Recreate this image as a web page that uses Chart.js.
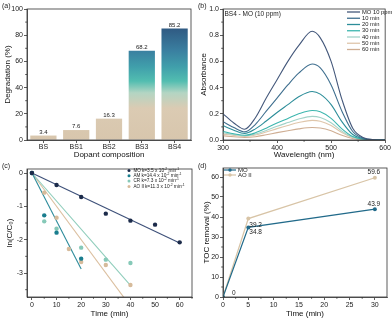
<!DOCTYPE html>
<html>
<head>
<meta charset="utf-8">
<script src="https://cdn.jsdelivr.net/npm/chart.js@4.4.0/dist/chart.umd.min.js"></script>
<style>
  html, body { margin: 0; padding: 0; background: #fff; }
  #wrap { position: relative; width: 392px; height: 320px; overflow: hidden; }
  .panel { position: absolute; width: 196px; height: 160px; }
  .tag { position: absolute; font: 7px "Liberation Sans", Arial, sans-serif; color: #222; }
</style>
</head>
<body>
<div id="wrap">
  <div class="panel" style="left:0;top:0"><canvas id="chartA"></canvas></div>
  <div class="panel" style="left:196px;top:0"><canvas id="chartB"></canvas></div>
  <div class="panel" style="left:0;top:160px"><canvas id="chartC"></canvas></div>
  <div class="panel" style="left:196px;top:160px"><canvas id="chartD"></canvas></div>
  <div class="tag" style="left:2px;top:2px">(a)</div>
  <div class="tag" style="left:198px;top:2px">(b)</div>
  <div class="tag" style="left:2px;top:162px">(c)</div>
  <div class="tag" style="left:198px;top:162px">(d)</div>
</div>
<script>
const $ = (s) => document.querySelector(s);
const FONT = '"Liberation Sans", Arial, Helvetica, sans-serif';

/* ---- (a) degradation per dopant ---- */
const dopants = ["BS", "BS1", "BS2", "BS3", "BS4"];
const degradation = [3.4, 7.6, 16.3, 68.2, 85.2];
const degTicks = [0, 20, 40, 60, 80, 100];

/* ---- (b) UV-vis spectra, BS4 - MO ---- */
const wavelengths = [300, 320, 340, 360, 380, 400, 420, 440, 465, 480, 500, 520, 540, 560, 580, 600];
const absLabels = ["MO 10 ppm", "10 min", "20 min", "30 min", "40 min", "50 min", "60 min"];
const absMO  = [0.200, 0.130, 0.082, 0.170, 0.320, 0.460, 0.600, 0.720, 0.830, 0.780, 0.600, 0.310, 0.090, 0.018, 0.002, 0];
const abs10  = [0.140, 0.095, 0.062, 0.120, 0.220, 0.320, 0.420, 0.510, 0.580, 0.550, 0.420, 0.220, 0.065, 0.013, 0.002, 0];
const abs20  = [0.110, 0.075, 0.050, 0.085, 0.145, 0.210, 0.270, 0.330, 0.370, 0.350, 0.270, 0.140, 0.042, 0.009, 0.001, 0];
const abs30  = [0.065, 0.048, 0.036, 0.055, 0.090, 0.130, 0.165, 0.200, 0.225, 0.215, 0.165, 0.085, 0.026, 0.006, 0.001, 0];
const abs40  = [0.055, 0.042, 0.032, 0.046, 0.073, 0.105, 0.133, 0.160, 0.180, 0.172, 0.132, 0.068, 0.021, 0.005, 0.001, 0];
const abs50  = [0.045, 0.035, 0.027, 0.038, 0.061, 0.087, 0.111, 0.133, 0.150, 0.143, 0.110, 0.057, 0.018, 0.004, 0.001, 0];
const abs60  = [0.032, 0.025, 0.019, 0.025, 0.040, 0.056, 0.071, 0.085, 0.095, 0.091, 0.070, 0.036, 0.012, 0.003, 0.001, 0];
const wlTicks = [300, 400, 500, 600];
const absTicks = [0, 0.2, 0.4, 0.6, 0.8, 1.0];

/* ---- (c) kinetics ln(C/C0) ---- */
const dyeNames = ["MO", "AM", "CR", "AO II"];
const kValues = ["3.5", "14.4", "7.3", "11.3"];
const tMO = [0, 10, 20, 30, 40, 50, 60];
const lnMO = [0, -0.36, -0.72, -1.22, -1.43, -1.55, -2.08];
const tAM = [0, 5, 10, 20];
const lnAM = [0, -1.27, -1.79, -2.57];
const tCR = [0, 5, 10, 20, 30, 40];
const lnCR = [0, -1.45, -1.67, -2.24, -2.60, -2.70];
const tAO = [0, 5, 10, 15, 20, 30, 40];
const lnAO = [0, -0.59, -1.34, -2.28, -2.67, -2.76, -3.36];
// fitted lines, [start, end] as [t, ln]
const fitMO = [[0, 0], [60, -2.10]];
const fitAM = [[0, 0], [20, -2.88]];
const fitCR = [[0, 0], [40, -3.37]];
const fitAO = [[0, 0], [37.5, -3.75]];
const timeTicksC = [0, 10, 20, 30, 40, 50, 60];
const lnTicks = [0, -1, -2, -3];

/* ---- (d) TOC removal ---- */
const tocTime = [0, 5, 30];
const tocMO = [0, 34.8, 43.9];
const tocAO = [0, 39.2, 59.6];
const tocNames = ["MO", "AO II"];
const timeTicksD = [0, 5, 10, 15, 20, 25, 30];
const tocTicks = [0, 10, 20, 30, 40, 50, 60];

/* ---- Colors ---- */
const SPEC_COLORS = ["#44587b", "#3f6f8f", "#2c8d99", "#3db6ae", "#a3d3c9", "#dfc6ab", "#cfae93"];
const DYE = {
  MO: { pt: "#1c2b4a", line: "#3d5079" },
  AM: { pt: "#1a7d8e", line: "#2e8c9c" },
  CR: { pt: "#86c9b8", line: "#8fcdbb" },
  AO: { pt: "#d6bb9b", line: "#dbbf9f" },
};
const TOC_COLORS = { MO: "#216a8a", AO: "#d8c4a6" };
const GRAD = [[0, "#d8c6ad"], [0.27, "#dbcbb3"], [0.4, "#b3d5c3"], [0.5, "#52bdb0"], [0.62, "#409fab"], [0.76, "#3a7fa0"], [1, "#2c4f7a"]];

Chart.defaults.font.family = FONT;
Chart.defaults.font.size = 7;
Chart.defaults.color = "#222";
Chart.defaults.animation = false;
Chart.defaults.plugins.legend.display = false;
Chart.defaults.plugins.tooltip.enabled = false;

/* ---------- helpers ---------- */

// box around plot area + small minor ticks (Origin look)
const framePlugin = {
  id: "frame",
  afterDraw(chart, args, opts) {
    const { ctx, chartArea: a, scales } = chart;
    ctx.save();
    ctx.strokeStyle = "#333";
    ctx.lineWidth = 0.8;
    ctx.strokeRect(a.left, a.top, a.right - a.left, a.bottom - a.top);
    const minor = (scale, step, horiz) => {
      if (!step) return;
      const major = scale.ticks.map((t) => t.value);
      for (let v = Math.ceil(scale.min / step) * step; v <= scale.max + 1e-9; v += step) {
        if (major.some((m) => Math.abs(m - v) < 1e-6)) continue;
        const p = scale.getPixelForValue(v);
        ctx.beginPath();
        if (horiz) { ctx.moveTo(p, a.bottom); ctx.lineTo(p, a.bottom + 1.8); }
        else { ctx.moveTo(a.left - 1.8, p); ctx.lineTo(a.left, p); }
        ctx.stroke();
      }
    };
    if (scales.x && scales.x.type === "linear") minor(scales.x, opts.minorX, true);
    if (scales.y) minor(scales.y, opts.minorY, false);
    ctx.restore();
  },
};
Chart.register(framePlugin);

function linAxis({ pos, min, max, ticks, title, size, fmt, titlePad }) {
  const horiz = pos === "bottom";
  return {
    type: "linear", position: pos, min, max,
    afterBuildTicks: (s) => { s.ticks = ticks.map((v) => ({ value: v })); },
    afterFit: (s) => { if (horiz) s.height = size; else s.width = size; },
    grid: { drawOnChartArea: false, tickLength: 3, color: "#333", lineWidth: 0.8 },
    border: { color: "#333", width: 0.8 },
    ticks: { padding: 1, autoSkip: false, maxRotation: 0, color: "#222", font: { size: 7 }, callback: fmt || ((v) => v) },
    title: { display: true, text: title, color: "#111", font: { size: 8 }, padding: titlePad },
  };
}

function drawRich(ctx, x, y, parts, size) {
  parts.forEach(([t, sup]) => {
    ctx.font = `${sup ? size * 0.7 : size}px ${FONT}`;
    ctx.fillText(t, x, sup ? y - size * 0.35 : y);
    x += ctx.measureText(t).width;
  });
}

function barGradient(context) {
  const { chart } = context;
  const { ctx, chartArea, scales } = chart;
  if (!chartArea) return GRAD[0][1];
  const g = ctx.createLinearGradient(0, scales.y.getPixelForValue(0), 0, scales.y.getPixelForValue(90));
  GRAD.forEach(([s, c]) => g.addColorStop(s, c));
  return g;
}

const pts = (xs, ys) => xs.map((x, i) => ({ x, y: ys[i] }));
const seg = (f) => f.map(([x, y]) => ({ x, y }));

/* ---------- (a) ---------- */

new Chart($("#chartA"), {
  type: "bar",
  data: {
    labels: dopants,
    datasets: [{ data: degradation, backgroundColor: barGradient, borderWidth: 0, barPercentage: 0.8, categoryPercentage: 1 }],
  },
  options: {
    responsive: true, maintainAspectRatio: false,
    layout: { padding: { top: 9, right: 5, left: 0, bottom: 0 } },
    scales: {
      x: {
        afterFit: (s) => { s.height = 20; },
        grid: { drawOnChartArea: false, offset: false, tickLength: 3, color: "#333", lineWidth: 0.8 },
        border: { color: "#333", width: 0.8 },
        ticks: { padding: 0, color: "#222", font: { size: 7 } },
        title: { display: true, text: "Dopant composition", color: "#111", font: { size: 8 }, padding: { top: 0, bottom: 0 } },
      },
      y: linAxis({ pos: "left", min: 0, max: 100, ticks: degTicks, title: "Degradation (%)", size: 27, titlePad: { top: 3, bottom: 0 } }),
    },
    plugins: { frame: { minorY: 10 } },
  },
  plugins: [{
    id: "barValues",
    afterDatasetsDraw(chart) {
      const { ctx } = chart;
      ctx.save();
      ctx.font = `6px ${FONT}`;
      ctx.fillStyle = "#222";
      ctx.textAlign = "center";
      ctx.textBaseline = "middle";
      chart.getDatasetMeta(0).data.forEach((bar, i) => ctx.fillText(degradation[i].toFixed(1), bar.x, bar.y - 3.5));
      ctx.restore();
    },
  }],
});

/* ---------- (b) ---------- */

const specSeries = [absMO, abs10, abs20, abs30, abs40, abs50, abs60];

new Chart($("#chartB"), {
  type: "line",
  data: {
    datasets: specSeries.map((s, i) => ({
      label: absLabels[i],
      data: pts(wavelengths, s),
      borderColor: SPEC_COLORS[i],
      borderWidth: 1.1,
      pointRadius: 0,
      cubicInterpolationMode: "monotone",
      fill: false,
    })),
  },
  options: {
    responsive: true, maintainAspectRatio: false,
    layout: { padding: { top: 9, right: 4, left: 0, bottom: 0 } },
    scales: {
      x: linAxis({ pos: "bottom", min: 300, max: 600, ticks: wlTicks, title: "Wavelength (nm)", size: 20, titlePad: { top: 0, bottom: 0 } }),
      y: linAxis({ pos: "left", min: 0, max: 1.0, ticks: absTicks, title: "Absorbance", size: 27, fmt: (v) => v.toFixed(1), titlePad: { top: 3, bottom: 0 } }),
    },
    plugins: { frame: { minorX: 50, minorY: 0.1 } },
  },
  plugins: [{
    id: "specLegend",
    afterDraw(chart) {
      const { ctx, chartArea: a } = chart;
      ctx.save();
      ctx.fillStyle = "#222";
      ctx.textBaseline = "middle";
      ctx.font = `6.5px ${FONT}`;
      ctx.fillText("BS4 - MO (10 ppm)", a.left + 1.5, a.top + 5);
      ctx.font = `5.8px ${FONT}`;
      absLabels.forEach((lab, i) => {
        const y = a.top + 3 + i * 6.25;
        ctx.strokeStyle = SPEC_COLORS[i];
        ctx.lineWidth = 1.3;
        ctx.beginPath(); ctx.moveTo(151, y); ctx.lineTo(164, y); ctx.stroke();
        ctx.fillText(lab, 166, y);
      });
      ctx.restore();
    },
  }],
});

/* ---------- (c) ---------- */

const dyeKeys = ["MO", "AM", "CR", "AO"];
const scatterData = [pts(tMO, lnMO), pts(tAM, lnAM), pts(tCR, lnCR), pts(tAO, lnAO)];
const fitData = [seg(fitMO), seg(fitAM), seg(fitCR), seg(fitAO)];

new Chart($("#chartC"), {
  type: "scatter",
  data: {
    datasets: [
      ...fitData.map((d, i) => ({
        data: d, showLine: true, pointRadius: 0, borderWidth: 1.1,
        borderColor: DYE[dyeKeys[i]].line, order: 2,
      })),
      ...scatterData.map((d, i) => ({
        data: d, pointRadius: 2.2, borderWidth: 0,
        backgroundColor: DYE[dyeKeys[i]].pt, order: 1,
      })),
    ],
  },
  options: {
    responsive: true, maintainAspectRatio: false,
    layout: { padding: { top: 9, right: 4, left: 0, bottom: 0 } },
    scales: {
      x: linAxis({ pos: "bottom", min: -2, max: 65, ticks: timeTicksC, title: "Time (min)", size: 23, titlePad: { top: 0, bottom: 1.2 } }),
      y: linAxis({ pos: "left", min: -3.72, max: 0.12, ticks: lnTicks, title: "ln(C/C\u2080)", size: 27, titlePad: { top: 5, bottom: 0 } }),
    },
    plugins: { frame: { minorX: 5, minorY: 0.5 } },
  },
  plugins: [{
    id: "kLegend",
    afterDraw(chart) {
      const { ctx, chartArea: a } = chart;
      ctx.save();
      ctx.textBaseline = "middle";
      dyeNames.forEach((name, i) => {
        const y = a.top + 1.5 + i * 5.3;
        ctx.fillStyle = DYE[dyeKeys[i]].pt;
        ctx.beginPath(); ctx.arc(129, y, 1.5, 0, Math.PI * 2); ctx.fill();
        ctx.fillStyle = "#222";
        ctx.font = `4.6px ${FONT}`;
        ctx.fillText(name, 133.5, y);
        const kx = Math.max(141.5, 133.5 + ctx.measureText(name).width + 1);
        drawRich(ctx, kx, y, [[`k=${kValues[i]} x 10`], ["-2", true], [" min"], ["-1", true]], 4.8);
      });
      ctx.restore();
    },
  }],
});

/* ---------- (d) ---------- */

new Chart($("#chartD"), {
  type: "line",
  data: {
    datasets: [
      { label: "MO", data: pts(tocTime, tocMO), borderColor: TOC_COLORS.MO, backgroundColor: TOC_COLORS.MO, borderWidth: 1.2, pointRadius: 2, pointBorderWidth: 0 },
      { label: "AO II", data: pts(tocTime, tocAO), borderColor: TOC_COLORS.AO, backgroundColor: TOC_COLORS.AO, borderWidth: 1.2, pointRadius: 2, pointBorderWidth: 0 },
    ],
  },
  options: {
    responsive: true, maintainAspectRatio: false,
    layout: { padding: { top: 8, right: 5, left: 0, bottom: 0 } },
    scales: {
      x: linAxis({ pos: "bottom", min: 0, max: 32.4, ticks: timeTicksD, title: "Time (min)", size: 23, titlePad: { top: 0, bottom: 1.2 } }),
      y: linAxis({ pos: "left", min: 0, max: 64.5, ticks: tocTicks, title: "TOC removal (%)", size: 27, titlePad: { top: 6, bottom: 0 } }),
    },
    plugins: { frame: { minorX: 2.5, minorY: 5 } },
  },
  plugins: [{
    id: "tocNotes",
    afterDraw(chart) {
      const { ctx, chartArea: a } = chart;
      const mo = chart.getDatasetMeta(0).data;
      const ao = chart.getDatasetMeta(1).data;
      ctx.save();
      ctx.fillStyle = "#222";
      ctx.textBaseline = "middle";
      ctx.font = `6.5px ${FONT}`;
      ctx.textAlign = "left";
      ctx.fillText(String(tocMO[0]), mo[0].x + 9, mo[0].y - 4);
      ctx.fillText(tocAO[1].toFixed(1), ao[1].x + 1, ao[1].y + 7);
      ctx.fillText(tocMO[1].toFixed(1), mo[1].x + 1, mo[1].y + 5);
      ctx.textAlign = "center";
      ctx.fillText(tocMO[2].toFixed(1), mo[2].x - 1, mo[2].y - 5);
      ctx.fillText(tocAO[2].toFixed(1), ao[2].x - 1, ao[2].y - 5.5);
      // legend
      ctx.textAlign = "left";
      ctx.font = `6px ${FONT}`;
      [TOC_COLORS.MO, TOC_COLORS.AO].forEach((c, i) => {
        const y = a.top + 2 + i * 5;
        ctx.strokeStyle = c; ctx.fillStyle = c; ctx.lineWidth = 1.2;
        ctx.beginPath(); ctx.moveTo(a.left + 1, y); ctx.lineTo(a.left + 13, y); ctx.stroke();
        ctx.beginPath(); ctx.arc(a.left + 7, y, 1.7, 0, Math.PI * 2); ctx.fill();
        ctx.fillStyle = "#222";
        ctx.fillText(tocNames[i], a.left + 15, y);
      });
      ctx.restore();
    },
  }],
});
</script>
</body>
</html>
